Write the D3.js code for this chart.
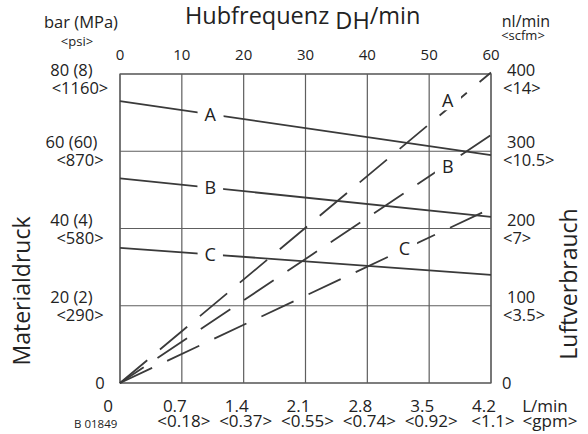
<!DOCTYPE html>
<html>
<head>
<meta charset="utf-8">
<script src="https://cdn.jsdelivr.net/npm/d3@7"></script>
<style>
  html, body { margin: 0; padding: 0; background: #fff; }
  svg { display: block; font-family: "Open Sans", "Noto Sans", sans-serif; }
  text { fill: #222; }
</style>
</head>
<body>
<svg id="chart" width="588" height="434"></svg>
<script>
// Stroke frequency (double strokes per minute) on the top axis
const freqTicks = [0, 10, 20, 30, 40, 50, 60];
// Fluid pressure, left axis
const pressureTicks = [0, 20, 40, 60, 80];
const pressureLabels = ["0", "20 (2)", "40 (4)", "60 (60)", "80 (8)"];
const psiLabels = ["", "<290>", "<580>", "<870>", "<1160>"];
// Air consumption, right axis
const airTicks = [0, 100, 200, 300, 400];
const airLabels = ["0", "100", "200", "300", "400"];
const scfmLabels = ["", "<3.5>", "<7>", "<10.5>", "<14>"];
// Delivery rate, bottom axis
const flowTicks = [0, 0.7, 1.4, 2.1, 2.8, 3.5, 4.2];
const flowLabels = ["0", "0.7", "1.4", "2.1", "2.8", "3.5", "4.2"];
const gpmLabels = ["", "<0.18>", "<0.37>", "<0.55>", "<0.74>", "<0.92>", "<1.1>"];

// Pump variants
const series = ["A", "B", "C"];
// Fluid pressure (bar) at 0 and 60 DH/min
const pressureAt0 = [73, 53, 35];
const pressureAt60 = [59, 43, 28];
// Air consumption (nl/min) at 60 DH/min, starting from zero
const airAt60 = [402, 321, 226];
// Where the letters sit, in axis units
const pressureLabelFreq = [14.6, 14.6, 14.6];
const airLabelFreq = [53, 53, 46];
const airLabelValue = [366, 280, 174];

const svg = d3.select("#chart");
const L = 120, R = 491, T = 74, B = 383;

const x = d3.scaleLinear().domain([0, 60]).range([L, R]);
const xFlow = d3.scaleLinear().domain([0, 4.2]).range([L, R]);
const yP = d3.scaleLinear().domain([0, 80]).range([B, T]);
const yA = d3.scaleLinear().domain([0, 400]).range([B, T]);

const gridColor = "#5e5e5e";
const lineColor = "#3a3a3a";

// Grid
const grid = svg.append("g");
grid.selectAll("line.v").data(freqTicks).join("line")
  .attr("x1", d => x(d)).attr("x2", d => x(d))
  .attr("y1", T).attr("y2", B)
  .attr("stroke", gridColor).attr("stroke-width", 1.2);
grid.selectAll("line.h").data(pressureTicks).join("line")
  .attr("x1", L).attr("x2", R)
  .attr("y1", d => yP(d)).attr("y2", d => yP(d))
  .attr("stroke", gridColor).attr("stroke-width", 1.2);

// Top axis: stroke frequency
svg.append("g").selectAll("text").data(freqTicks).join("text")
  .attr("x", d => x(d)).attr("y", 60)
  .attr("text-anchor", "middle").attr("font-size", 15)
  .text(d => d);

// Left axis: pressure
const left = svg.append("g").attr("font-size", 16.5).attr("text-anchor", "middle");
pressureTicks.forEach((v, i) => {
  const gy = yP(v) + (i === pressureTicks.length - 1 ? 5 : 0);
  if (v === 0) {
    left.append("text").attr("x", 100).attr("y", yP(v) + 6).text(pressureLabels[i]);
    return;
  }
  left.append("text").attr("x", 71.5).attr("y", gy - 3).text(pressureLabels[i]);
  left.append("text").attr("x", 80).attr("y", gy + 15).text(psiLabels[i]);
});

// Right axis: air consumption
const right = svg.append("g").attr("font-size", 16.5);
airTicks.forEach((v, i) => {
  const gy = yA(v) + (i === airTicks.length - 1 ? 5 : 0);
  if (v === 0) {
    right.append("text").attr("x", 502).attr("y", yA(v) + 6).text(airLabels[i]);
    return;
  }
  right.append("text").attr("x", 507).attr("y", gy - 3).text(airLabels[i]);
  right.append("text").attr("x", 503).attr("y", gy + 15).text(scfmLabels[i]);
});

// Bottom axis: delivery rate
const bottom = svg.append("g").attr("font-size", 17).attr("text-anchor", "middle");
flowTicks.forEach((v, i) => {
  const dx = v === 0 ? -12 : -7;
  bottom.append("text").attr("x", xFlow(v) + dx).attr("y", 411.5).text(flowLabels[i]);
  if (gpmLabels[i]) bottom.append("text").attr("x", xFlow(v) + 2).attr("y", 427).text(gpmLabels[i]);
});
bottom.append("text").attr("x", 545).attr("y", 411.5).text("L/min");
bottom.append("text").attr("x", 550).attr("y", 427).text("<gpm>");

svg.append("text").attr("x", 74).attr("y", 428).attr("font-size", 11.5).text("B 01849");

// Unit captions
svg.append("text").attr("x", 81).attr("y", 28).attr("font-size", 16.5)
  .attr("text-anchor", "middle").text("bar (MPa)");
svg.append("text").attr("x", 77).attr("y", 46).attr("font-size", 13)
  .attr("text-anchor", "middle").text("<psi>");
svg.append("text").attr("x", 526).attr("y", 26.5).attr("font-size", 16)
  .attr("text-anchor", "middle").text("nl/min");
svg.append("text").attr("x", 523).attr("y", 40).attr("font-size", 13)
  .attr("text-anchor", "middle").text("<scfm>");

// Titles
const title = svg.append("text").attr("x", 185).attr("y", 24).attr("font-size", 23.5);
title.append("tspan").text("Hubfrequenz ");
title.append("tspan").attr("dy", 5).text("DH");
title.append("tspan").attr("dy", -5).text("/min");

svg.append("text").attr("font-size", 23)
  .attr("text-anchor", "middle")
  .attr("transform", "translate(30,291) rotate(-90)")
  .text("Materialdruck");
svg.append("text").attr("font-size", 23)
  .attr("text-anchor", "middle")
  .attr("transform", "translate(577,284) rotate(-90)")
  .text("Luftverbrauch");

// Frame
svg.append("rect").attr("x", L).attr("y", T).attr("width", R - L).attr("height", B - T)
  .attr("fill", "none").attr("stroke", gridColor).attr("stroke-width", 1.2);

// Pressure curves (solid)
const pLine = d3.line().x(d => x(d[0])).y(d => yP(d[1]));
series.forEach((s, i) => {
  svg.append("path")
    .attr("d", pLine([[0, pressureAt0[i]], [60, pressureAt60[i]]]))
    .attr("fill", "none").attr("stroke", lineColor).attr("stroke-width", 1.8);
});

// Air consumption curves (dashed)
const aLine = d3.line().x(d => x(d[0])).y(d => yA(d[1]));
const dashOffsets = [0, 7, 0];
series.forEach((s, i) => {
  svg.append("path")
    .attr("d", aLine([[0, 0], [60, airAt60[i]]]))
    .attr("fill", "none").attr("stroke", lineColor).attr("stroke-width", 1.8)
    .attr("stroke-dasharray", "35.5,16.6")
    .attr("stroke-dashoffset", dashOffsets[i]);
});

// Letters with a white knockout behind them
function letter(cx, cy, txt) {
  const g = svg.append("g");
  const r = g.append("rect").attr("fill", "#fff");
  const t = g.append("text").attr("x", cx).attr("y", cy + 6.5)
    .attr("text-anchor", "middle").attr("font-size", 18).text(txt);
  const bb = t.node().getBBox();
  r.attr("x", bb.x - 7).attr("width", bb.width + 14)
   .attr("y", cy - 9).attr("height", 19);
}
series.forEach((s, i) => {
  const f = pressureLabelFreq[i];
  const p = pressureAt0[i] + (pressureAt60[i] - pressureAt0[i]) * f / 60;
  letter(x(f), yP(p), s);
  letter(x(airLabelFreq[i]), yA(airLabelValue[i]), s);
});
</script>
</body>
</html>
